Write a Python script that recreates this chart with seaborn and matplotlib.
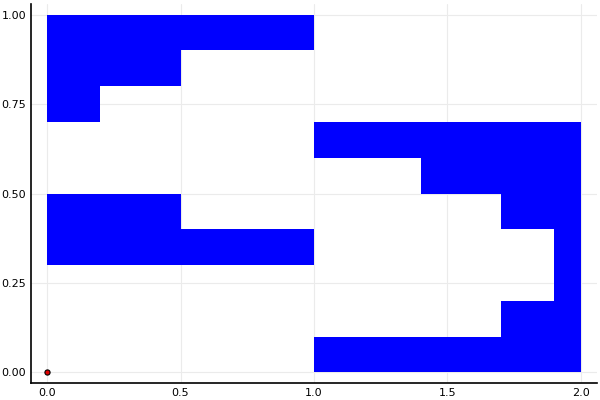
import matplotlib
matplotlib.use("Agg")
import matplotlib.pyplot as plt
import seaborn as sns

# horizontal bands (height 0.1): bottom edge, left x, right x
band_bottom = [0.9, 0.8, 0.7, 0.6, 0.5, 0.4, 0.4, 0.3, 0.3, 0.2, 0.1, 0.0]
band_left = [0.0, 0.0, 0.0, 1.0, 1.4, 0.0, 1.7, 0.0, 1.9, 1.9, 1.7, 1.0]
band_right = [1.0, 0.5, 0.2, 2.0, 2.0, 0.5, 2.0, 1.0, 2.0, 2.0, 2.0, 2.0]
point_x = [0.0]
point_y = [0.0]

sns.set_style("white")
plt.rcParams['font.family'] = ['DejaVu Sans']

fig = plt.figure(figsize=(6, 4), dpi=100)
ax = fig.add_axes([31 / 600, 17 / 400, 566 / 600, 379 / 400])

widths = [r - l for l, r in zip(band_left, band_right)]
ax.barh(band_bottom, widths, left=band_left, height=0.1, align='edge',
        color='#0000ff', edgecolor='none', zorder=2)
ax.scatter(point_x, point_y, s=14, color='#e00000', edgecolor='black',
           linewidth=0.8, zorder=3)

ax.set_xlim(-0.06, 2.06)
ax.set_ylim(-0.03, 1.03)
ax.set_xticks([0.0, 0.5, 1.0, 1.5, 2.0])
ax.set_xticklabels(['0.0', '0.5', '1.0', '1.5', '2.0'])
ax.set_yticks([0.0, 0.25, 0.5, 0.75, 1.0])
ax.set_yticklabels(['0.00', '0.25', '0.50', '0.75', '1.00'])
ax.grid(True, color='#ebebeb', linewidth=0.8, zorder=0)
ax.set_axisbelow(True)
for side in ['top', 'right']:
    ax.spines[side].set_visible(False)
for side in ['left', 'bottom']:
    ax.spines[side].set_color('black')
    ax.spines[side].set_linewidth(1.2)
ax.tick_params(direction='in', length=4, width=0.8, labelsize=8, colors='black')

fig.savefig('out.png', dpi=100)
